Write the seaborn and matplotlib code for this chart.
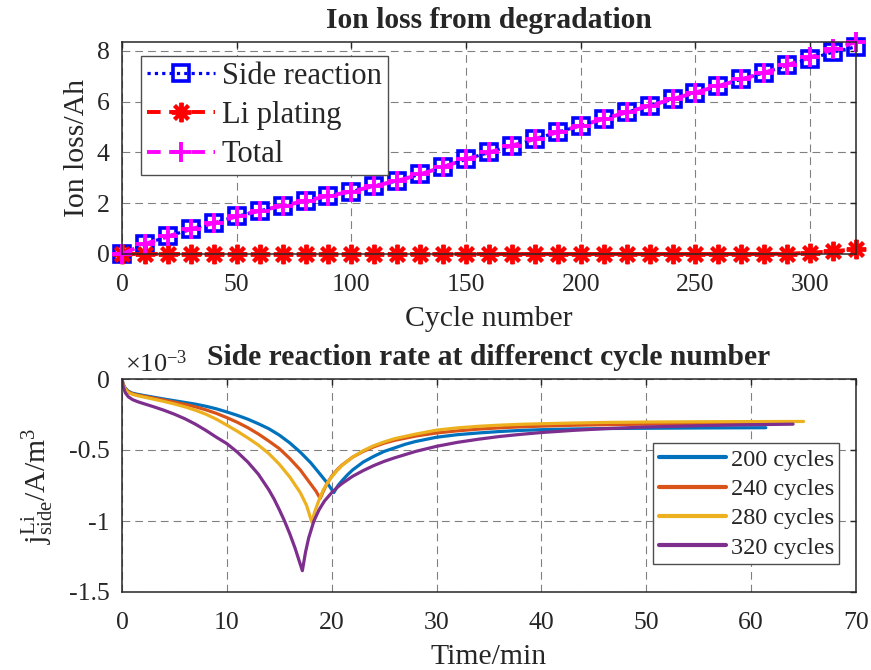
import numpy as np
import pandas as pd
import matplotlib
matplotlib.use("Agg")
import matplotlib.pyplot as plt
import seaborn as sns
from matplotlib.ticker import FuncFormatter

# ---------------- data: top panel ----------------
cycles = [0, 10, 20, 30, 40, 50, 60, 70, 80, 90, 100, 110, 120, 130, 140, 150,
          160, 170, 180, 190, 200, 210, 220, 230, 240, 250, 260, 270, 280, 290,
          300, 310, 320]
side_loss = [0, 0.39, 0.69, 0.98, 1.22, 1.48, 1.70, 1.90, 2.09, 2.29, 2.46, 2.68,
             2.88, 3.14, 3.43, 3.73, 4.00, 4.27, 4.53, 4.80, 5.06, 5.32, 5.58,
             5.84, 6.10, 6.36, 6.62, 6.88, 7.14, 7.43, 7.69, 7.95, 8.16]
plating_loss = [0, 0, 0, 0, 0, 0, 0, 0, 0, 0, 0, 0, 0, 0, 0, 0, 0, 0, 0, 0, 0,
                0, 0, 0, 0, 0, 0, 0, 0, 0.01, 0.05, 0.11, 0.19]
total_loss = [s + p for s, p in zip(side_loss, plating_loss)]

# ---------------- data: bottom panel (values in 1e-3 A/m^3) ----------------
t_200 = [0, 0.1, 0.3, 0.6, 1, 1.5, 2, 3, 4, 5, 6, 7, 8, 9, 10, 11, 12, 13, 14,
         15, 16, 17, 18, 19, 19.6, 20.2, 20.6, 21, 21.5, 22, 23, 24, 25, 26, 27,
         28, 30, 32, 34, 36, 38, 40, 43, 46, 50, 55, 61.4]
r_200 = [0, -0.035, -0.064, -0.086, -0.100, -0.108, -0.115, -0.128, -0.141,
         -0.153, -0.165, -0.177, -0.192, -0.210, -0.232, -0.256, -0.283, -0.315,
         -0.35, -0.395, -0.45, -0.515, -0.59, -0.68, -0.735, -0.80, -0.75,
         -0.715, -0.675, -0.64, -0.585, -0.545, -0.51, -0.485, -0.46, -0.44,
         -0.41, -0.392, -0.38, -0.37, -0.362, -0.357, -0.352, -0.349, -0.347,
         -0.345, -0.343]

t_240 = [0, 0.1, 0.3, 0.6, 1, 1.5, 2, 3, 4, 5, 6, 7, 8, 9, 10, 11, 12, 13, 14,
         15, 16, 17, 18, 18.5, 18.9, 19.2, 19.6, 20, 20.5, 21, 22, 23, 24, 25,
         26, 28, 30, 32, 34, 36, 38, 40, 43, 46, 50, 55, 63]
r_240 = [0, -0.038, -0.068, -0.09, -0.104, -0.113, -0.12, -0.134, -0.148,
         -0.163, -0.178, -0.196, -0.217, -0.242, -0.272, -0.305, -0.343, -0.387,
         -0.437, -0.49, -0.56, -0.64, -0.74, -0.79, -0.842, -0.79, -0.73,
         -0.685, -0.64, -0.605, -0.55, -0.51, -0.478, -0.452, -0.432, -0.402,
         -0.38, -0.365, -0.353, -0.344, -0.337, -0.332, -0.326, -0.322, -0.318,
         -0.315, -0.312]

t_280 = [0, 0.1, 0.3, 0.6, 1, 1.5, 2, 3, 4, 5, 6, 7, 8, 9, 10, 11, 12, 13, 14,
         15, 16, 17, 17.6, 18.1, 18.4, 18.8, 19.2, 19.6, 20, 20.5, 21, 22, 23,
         24, 25, 26, 28, 30, 32, 34, 36, 38, 40, 43, 46, 50, 55, 60, 65]
r_280 = [0, -0.04, -0.072, -0.095, -0.108, -0.118, -0.126, -0.142, -0.158,
         -0.176, -0.196, -0.22, -0.248, -0.283, -0.325, -0.368, -0.415, -0.465,
         -0.525, -0.60, -0.69, -0.80, -0.89, -1.008, -0.93, -0.85, -0.78,
         -0.73, -0.69, -0.645, -0.608, -0.55, -0.505, -0.47, -0.443, -0.42,
         -0.388, -0.36, -0.344, -0.333, -0.325, -0.319, -0.315, -0.31, -0.306,
         -0.303, -0.301, -0.30, -0.299]

t_320 = [0, 0.1, 0.3, 0.6, 1, 1.5, 2, 3, 4, 5, 6, 7, 8, 9, 10, 11, 12, 13, 14,
         14.5, 15, 15.5, 16, 16.5, 17.2, 17.5, 17.8, 18.3, 18.8, 19.3, 20, 20.5,
         21, 22, 23, 24, 25, 26, 28, 30, 32, 34, 36, 38, 40, 43, 46, 50, 55, 60,
         64]
r_320 = [0, -0.05, -0.095, -0.125, -0.145, -0.16, -0.172, -0.195, -0.22,
         -0.248, -0.28, -0.318, -0.362, -0.41, -0.455, -0.515, -0.585, -0.67,
         -0.78, -0.845, -0.92, -1.0, -1.09, -1.19, -1.35, -1.22, -1.12, -1.0,
         -0.92, -0.86, -0.80, -0.765, -0.735, -0.685, -0.645, -0.61, -0.58,
         -0.555, -0.51, -0.474, -0.446, -0.424, -0.405, -0.39, -0.377, -0.362,
         -0.35, -0.338, -0.329, -0.322, -0.318]

cycle_labels = ["200 cycles", "240 cycles", "280 cycles", "320 cycles"]
rate_colors = ["#0072BD", "#D95319", "#EDB120", "#7E2F8E"]

# ---------------- style ----------------
sns.set_theme(style="white")
plt.rcParams["font.family"] = ["Liberation Serif", "DejaVu Serif"]
plt.rcParams["mathtext.fontset"] = "custom"
plt.rcParams["mathtext.rm"] = "Liberation Serif"
plt.rcParams["mathtext.it"] = "Liberation Serif"
plt.rcParams["axes.unicode_minus"] = False

fig = plt.figure(figsize=(8.71, 6.70), dpi=100)
W, H = 871, 670
ax1 = fig.add_axes([122 / W, (H - 254) / H, (856 - 122) / W, (254 - 42) / H])
ax2 = fig.add_axes([122 / W, (H - 592) / H, (856 - 122) / W, (592 - 379) / H])


def style_axes(ax):
    for sp in ax.spines.values():
        sp.set_color("0.15")
        sp.set_linewidth(1.1)
    ax.tick_params(direction="in", length=4.5, width=1.0, colors="0.15",
                   top=True, right=True, labelsize=18.5, labelcolor="0.15")
    ax.tick_params(axis="x", pad=14.5)
    ax.tick_params(axis="y", pad=9)
    ax.grid(True, linestyle=(0, (7, 4.5)), linewidth=0.8, color="0.5")
    ax.set_axisbelow(True)


# ---------------- top panel ----------------
df_top = pd.DataFrame({"cycle": cycles, "side": side_loss,
                       "plating": plating_loss, "total": total_loss})

sns.lineplot(data=df_top, x="cycle", y="side", ax=ax1, estimator=None,
             sort=False, color="#0000FF", linestyle=(0, (1, 1.3)), linewidth=2.3,
             marker="s", markersize=12, markeredgewidth=2.6,
             markerfacecolor="none", markeredgecolor="#0000FF",
             label="Side reaction", clip_on=False)
sns.lineplot(data=df_top, x="cycle", y="plating", ax=ax1, estimator=None,
             sort=False, color="#FF0000", linestyle=(0, (3.5, 2.2)),
             linewidth=2.8, marker=(8, 2, 0), markersize=14,
             markeredgewidth=2.8, markeredgecolor="#FF0000",
             label="Li plating", clip_on=False)
sns.lineplot(data=df_top, x="cycle", y="total", ax=ax1, estimator=None,
             sort=False, color="#FF00FF", linestyle=(0, (3.5, 2.2)),
             linewidth=2.8, marker="+", markersize=15, markeredgewidth=2.8,
             markeredgecolor="#FF00FF", label="Total", clip_on=False)

ax1.set_xlim(0, 320)
ax1.set_ylim(0, max(total_loss))
ax1.set_xticks([0, 50, 100, 150, 200, 250, 300])
ax1.set_yticks([0, 2, 4, 6, 8])
style_axes(ax1)
ax1.set_title("Ion loss from degradation", fontsize=21.3, fontweight="bold",
              pad=10)
ax1.set_xlabel("Cycle number", fontsize=21.4, color="0.15")
ax1.set_ylabel("Ion loss/Ah", fontsize=21.4, color="0.15")
ax1.xaxis.set_label_coords(0.5, -0.245)
ax1.yaxis.set_label_coords(-0.043, 0.5)
leg1 = ax1.legend(loc="upper left", bbox_to_anchor=(0.026, 0.934),
                  borderaxespad=0, fontsize=22, handlelength=2.22,
                  handletextpad=0.22, borderpad=0.2, labelspacing=0.33,
                  numpoints=1, fancybox=False, framealpha=1,
                  edgecolor="0.3")
leg1.get_frame().set_linewidth(1.0)

# ---------------- bottom panel ----------------
series = [(t_200, r_200), (t_240, r_240), (t_280, r_280), (t_320, r_320)]
frames = []
for (tt, rr), lab in zip(series, cycle_labels):
    frames.append(pd.DataFrame({"time": tt, "rate": rr, "case": lab}))
df_bot = pd.concat(frames, ignore_index=True)

sns.lineplot(data=df_bot, x="time", y="rate", hue="case", ax=ax2,
             estimator=None, sort=False, palette=rate_colors,
             hue_order=cycle_labels, linewidth=2.3)

ax2.set_xlim(0, 70)
ax2.set_ylim(-1.5, 0)
ax2.set_xticks([0, 10, 20, 30, 40, 50, 60, 70])
ax2.set_yticks([0, -0.5, -1, -1.5])
ax2.yaxis.set_major_formatter(FuncFormatter(lambda v, p: "%g" % v))
style_axes(ax2)
ax2.set_title("Side reaction rate at differenct cycle number", fontsize=21.3,
              fontweight="bold", pad=10)
ax2.set_xlabel("Time/min", fontsize=21.4, color="0.15")
ax2.set_ylabel(r"$\mathrm{j}_{\mathrm{side}}^{\mathrm{Li}}\mathrm{/A/m}^{3}$",
               fontsize=21.4, color="0.15")
ax2.xaxis.set_label_coords(0.5, -0.245)
ax2.yaxis.set_label_coords(-0.09, 0.5)
ax2.text(0.004, 1.033, r"$\times\mathrm{10}^{\mathrm{-3}}$", transform=ax2.transAxes,
         fontsize=19, va="baseline", ha="left", color="0.15")

leg2 = ax2.legend(loc="lower right", bbox_to_anchor=(0.977, 0.131),
                  borderaxespad=0, fontsize=17.5, handlelength=2.75,
                  handletextpad=0.2, borderpad=0.22, labelspacing=0.3,
                  fancybox=False, framealpha=1, edgecolor="0.3", title=None)
leg2.get_frame().set_linewidth(1.0)
for line in leg2.get_lines():
    line.set_linewidth(3.0)

fig.savefig("out.png", dpi=100)
